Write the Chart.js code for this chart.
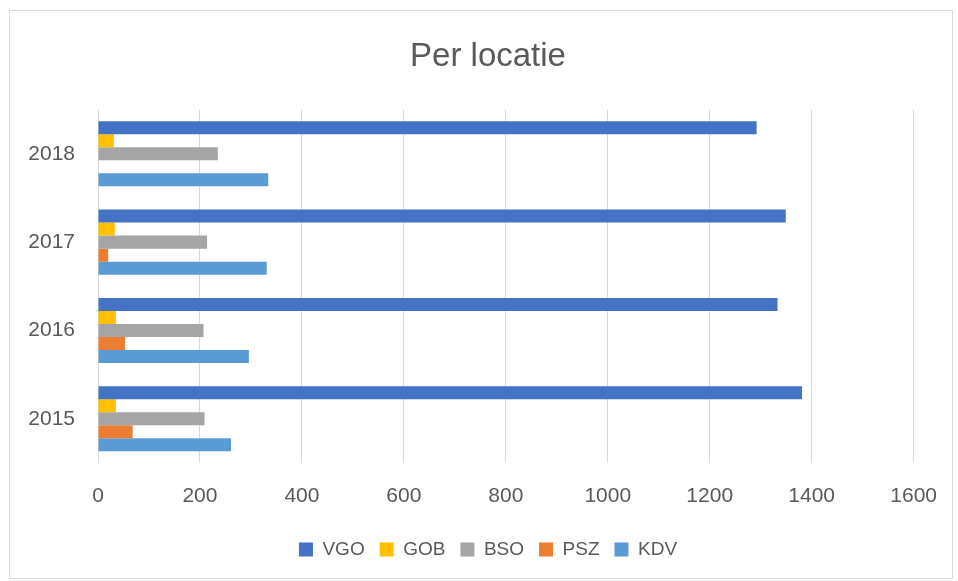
<!DOCTYPE html>
<html>
<head>
<meta charset="utf-8">
<script src="https://cdn.jsdelivr.net/npm/chart.js@4/dist/chart.umd.min.js"></script>
<style>
  html, body { margin: 0; padding: 0; background: #fff; }
  #wrap { width: 958px; height: 581px; position: relative; }
</style>
</head>
<body>
<div id="wrap"><canvas id="c" width="958" height="581"></canvas></div>
<script>
const categories = ['2018', '2017', '2016', '2015'];
const seriesNames = ['VGO', 'GOB', 'BSO', 'PSZ', 'KDV'];
const VGO = [1292, 1349, 1333, 1381];
const GOB = [31, 33, 35, 35];
const BSO = [235, 214, 207, 209];
const PSZ = [0, 20, 53, 68];
const KDV = [334, 331, 296, 261];
const xTicks = [0, 200, 400, 600, 800, 1000, 1200, 1400, 1600];
const seriesColors = ['#4472C4', '#FFC000', '#A5A5A5', '#ED7D31', '#5B9BD5'];
const seriesValues = [VGO, GOB, BSO, PSZ, KDV];

const frame = {
  id: 'frame',
  beforeDraw(chart) {
    const ctx = chart.ctx;
    ctx.save();
    ctx.fillStyle = '#ffffff';
    ctx.fillRect(0, 0, chart.width, chart.height);
    ctx.strokeStyle = '#d9d9d9';
    ctx.lineWidth = 1;
    ctx.strokeRect(9.5, 10.5, 943, 568);
    ctx.restore();
  }
};

const FONT = "'Liberation Sans', Arial, sans-serif";

new Chart(document.getElementById('c'), {
  type: 'bar',
  data: {
    labels: categories,
    datasets: seriesNames.map((n, i) => ({
      label: n,
      data: seriesValues[i],
      backgroundColor: seriesColors[i],
      borderWidth: 0,
      categoryPercentage: 0.7365,
      barPercentage: 1.0
    }))
  },
  options: {
    indexAxis: 'y',
    responsive: false,
    animation: false,
    devicePixelRatio: 1,
    layout: { padding: { left: 20, right: 2, top: 10, bottom: 12 } },
    plugins: {
      title: {
        display: true,
        text: 'Per locatie',
        color: '#595959',
        font: { family: FONT, size: 33, weight: 'normal' },
        padding: { top: 27, bottom: 33 }
      },
      legend: {
        position: 'bottom',
        labels: {
          color: '#595959',
          font: { family: FONT, size: 19 },
          boxWidth: 14,
          boxHeight: 14,
          padding: 15
        }
      },
      tooltip: { enabled: false }
    },
    scales: {
      x: {
        min: 0,
        max: 1600,
        afterBuildTicks: (axis) => { axis.ticks = xTicks.map(v => ({ value: v })); },
        afterFit: (axis) => { axis.height = 62; },
        grid: { color: '#d9d9d9', lineWidth: 1, drawTicks: false },
        border: { display: false },
        ticks: {
          color: '#595959',
          font: { family: FONT, size: 21 },
          padding: 21,
          maxRotation: 0,
          callback: (v) => String(v)
        }
      },
      y: {
        afterFit: (axis) => { axis.width = 78; },
        grid: { display: false, drawTicks: false },
        border: { display: false },
        ticks: {
          color: '#595959',
          font: { family: FONT, size: 21 },
          padding: 23
        }
      },
      yRightSpace: {
        type: 'category',
        position: 'right',
        display: true,
        afterFit: (axis) => { axis.width = 40; },
        grid: { display: false, drawTicks: false },
        border: { display: false },
        ticks: { display: false }
      }
    }
  },
  plugins: [frame]
});
</script>
</body>
</html>
